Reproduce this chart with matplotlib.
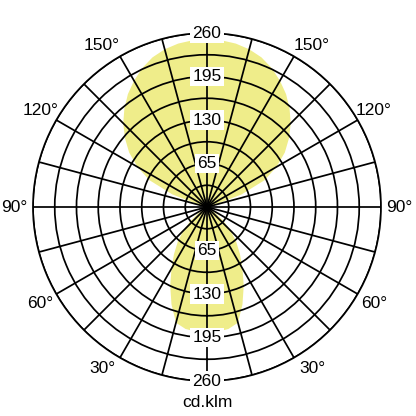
import numpy as np
import matplotlib.pyplot as plt

plt.rcParams['font.family'] = ['Liberation Sans', 'DejaVu Sans']

# luminous intensity (cd/klm) vs gamma angle (0 = down, 180 = up)
gamma = [0, 5, 10, 15, 20, 25, 30, 35, 40, 45, 50, 55, 60, 65, 70, 75, 80, 85, 90,
         95, 100, 105, 110, 115, 120, 125, 130, 135, 140, 145, 150, 155, 160, 165,
         170, 175, 180]
intensity = [188, 187, 185, 179, 155, 130, 106, 86, 68, 50, 32, 15, 3, 0, 0, 0, 0, 0, 0,
             0, 0, 10, 55, 95, 120, 142, 160, 177, 192, 206, 218, 229, 238, 244,
             248, 250, 251]

rings = [32.5, 65, 97.5, 130, 162.5, 195, 227.5, 260]
ring_labels = ['65', '130', '195', '260']
angle_labels = [30, 60, 90, 120, 150]
unit = 'cd.klm'

fig = plt.figure(figsize=(4.16, 4.16), dpi=100)
ax = fig.add_axes([0.0793, 0.0841, 0.8365, 0.8365], projection='polar')
ax.set_theta_zero_location('S')
ax.set_ylim(0, 260)

g = np.radians(gamma)
I = np.array(intensity)
theta = np.concatenate([g, -g[::-1]])
r = np.concatenate([I, I[::-1]])
ax.fill(theta, r, color='#efed8a', lw=0, zorder=1)

ax.set_xticks(np.radians(np.arange(0, 360, 15)))
ax.set_xticklabels([])
ax.set_yticks(rings)
ax.set_yticklabels([])
ax.set_axisbelow(False)
ax.grid(True, color='black', lw=1.25)
ax.spines['polar'].set_color('black')
ax.spines['polar'].set_linewidth(1.25)

box = dict(facecolor='white', edgecolor='none', pad=1.5)
for lab in ring_labels:
    v = float(lab)
    for t in (0, np.pi):
        ax.text(t, v, lab, ha='center', va='center', fontsize=12.5,
                bbox=box, zorder=5)

# labels near the vertical are nudged a little towards the horizontal
nudge = {30: 3, 60: 0, 90: 0, 120: 0, 150: -3}
for a in angle_labels:
    for s in (1, -1):
        ax.text(s * np.radians(a + nudge[a]), 288, f'{a}°', ha='center',
                va='center', fontsize=12.5, clip_on=False)

ax.text(0, 292, unit, ha='center', va='center', fontsize=12.5, clip_on=False)

fig.savefig('out.png', dpi=100)
